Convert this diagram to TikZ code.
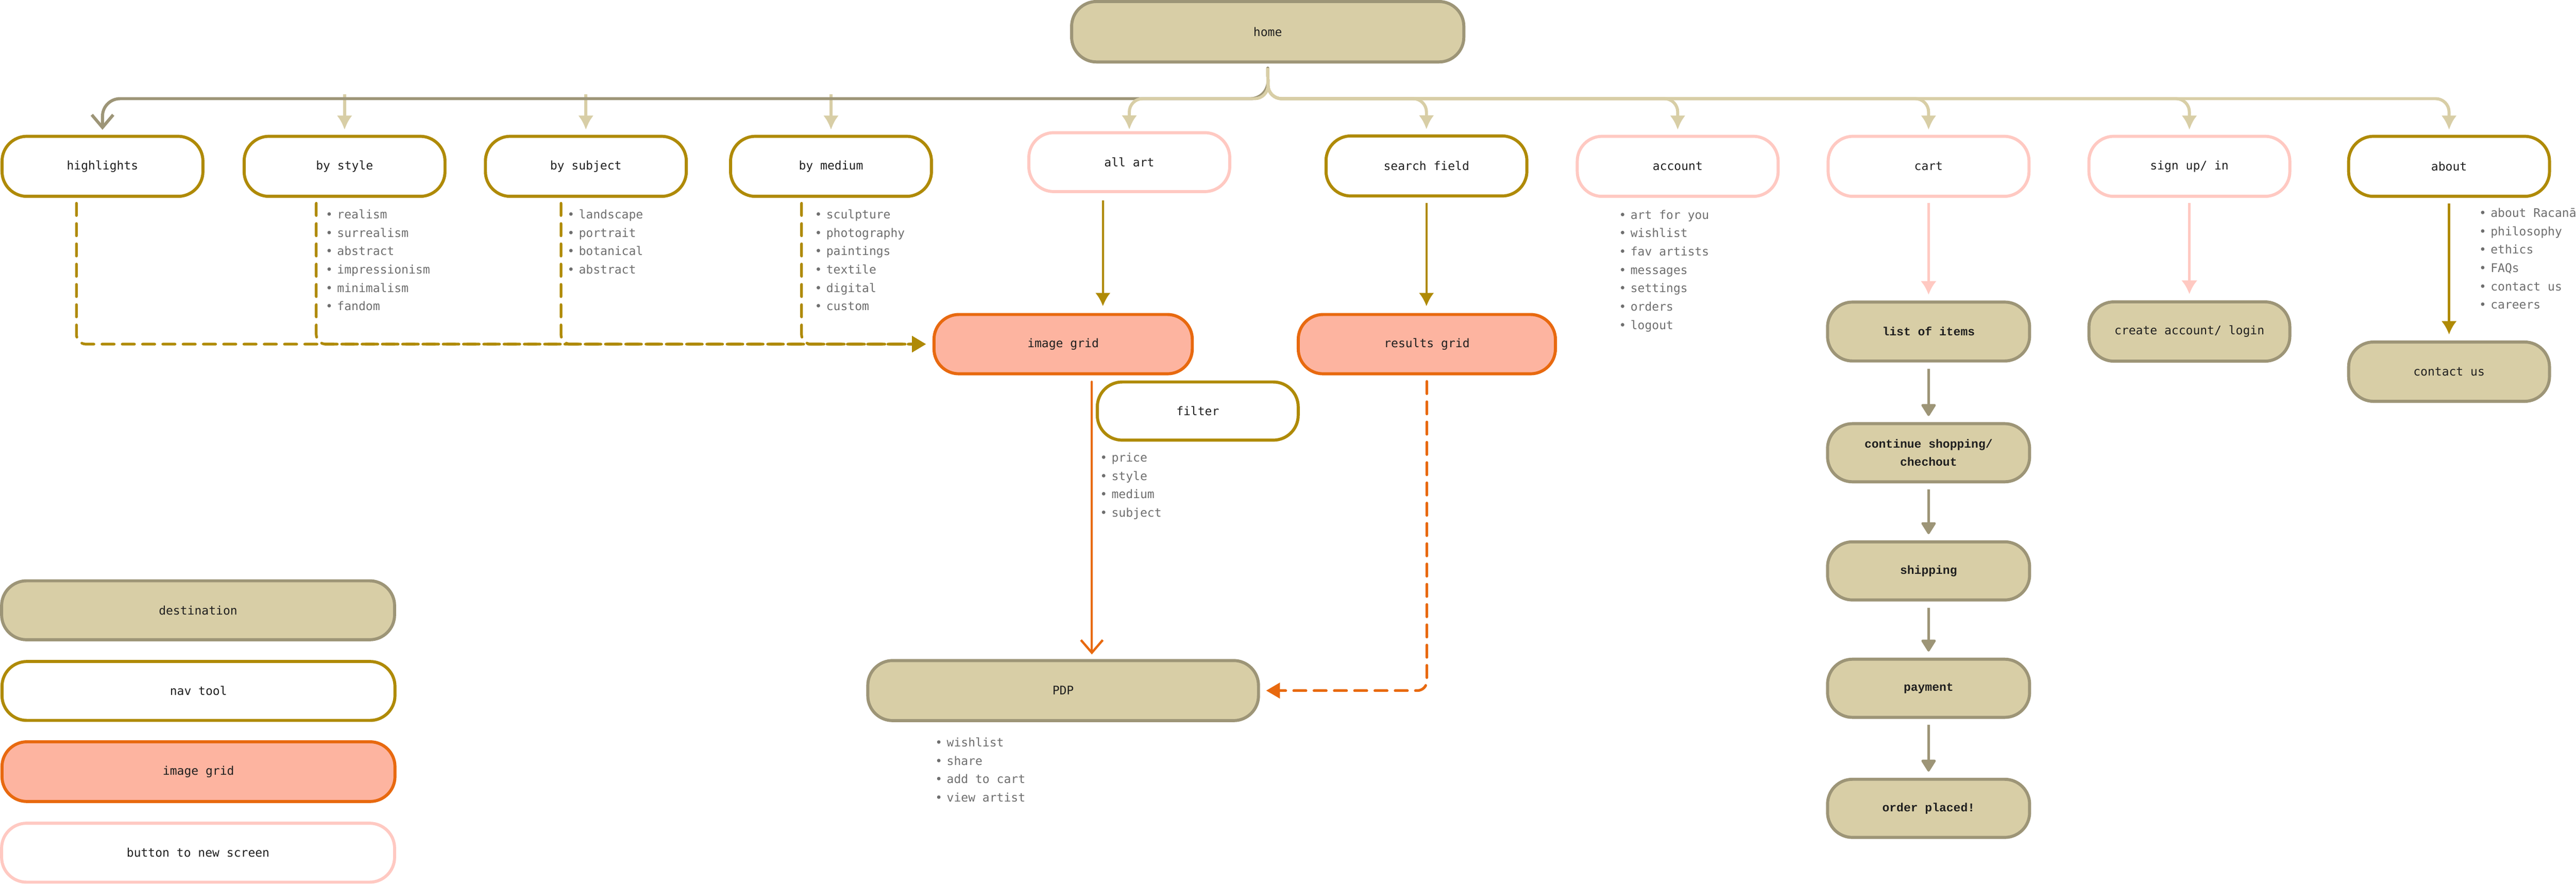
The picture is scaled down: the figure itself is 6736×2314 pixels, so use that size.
\documentclass[tikz,border=0pt]{standalone}
\usepackage{fontspec}
\setmonofont{DejaVu Sans Mono}
\newfontfamily\cartmono{Liberation Mono}
\usetikzlibrary{arrows.meta}
\definecolor{destF}{HTML}{D8CEA6}
\definecolor{destB}{HTML}{9D9577}
\definecolor{navB}{HTML}{AF8A06}
\definecolor{gridF}{HTML}{FDB4A0}
\definecolor{gridB}{HTML}{E8690F}
\definecolor{btnB}{HTML}{FFC9C2}
\definecolor{txt}{HTML}{1F1F1F}
\definecolor{listgrey}{HTML}{6E6E6E}
\newcommand{\lblfont}{\ttfamily\fontsize{8.82pt}{11pt}\selectfont}
\newcommand{\cartfont}{\cartmono\bfseries\fontsize{8.82pt}{13.4pt}\selectfont}
\newcommand{\bul}{\llap{\makebox[0.3cm][l]{•}}}
\begin{document}
\begin{tikzpicture}[x=0.01cm, y=-0.01cm,
  box/.style={rectangle, rounded corners=0.65cm, minimum width=5.25cm, minimum height=1.57cm, inner sep=0pt, line width=0.08cm, font=\lblfont, text=txt, align=center},
  dest/.style={box, draw=destB, fill=destF},
  cartbox/.style={dest, font=\cartfont, minimum width=5.28cm, minimum height=1.52cm},
  nav/.style={box, draw=navB, fill=white},
  grid/.style={box, draw=gridB, fill=gridF},
  btn/.style={box, draw=btnB, fill=white},
  li/.style={anchor=base west, inner sep=0pt, font=\lblfont, text=listgrey},
  lightarr/.style={draw=destF, line width=0.08cm, -{Latex[length=0.37cm,width=0.40cm]}, shorten >=0.13cm},
  darkarr/.style={draw=destB, line width=0.08cm, line cap=round, -{Straight Barb[length=0.33cm,width=0.56cm]}, shorten >=0.13cm},
  golddash/.style={draw=navB, line width=0.07cm, line cap=round, dash pattern=on 0.32cm off 0.21cm, rounded corners=0.25cm, -{Triangle[length=0.36cm,width=0.41cm]}, shorten <=0.14cm, shorten >=0.175cm},
  goldarr/.style={draw=navB, line width=0.06cm, -{Latex[length=0.35cm,width=0.40cm]}},
  orangeline/.style={draw=gridB, line width=0.06cm, line cap=round, -{Straight Barb[length=0.33cm,width=0.57cm]}},
  orangedash/.style={draw=gridB, line width=0.07cm, line cap=round, dash pattern=on 0.32cm off 0.21cm, rounded corners=0.25cm, -{Triangle[length=0.36cm,width=0.40cm]}},
  pinkarr/.style={draw=btnB, line width=0.07cm, -{Latex[length=0.36cm,width=0.42cm]}},
  greyarr/.style={draw=destB, line width=0.06cm, -{Triangle[length=0.34cm,width=0.41cm,round]}, shorten <=0.16cm, shorten >=0.16cm}
]
\fill[white] (0,0) rectangle (6736,2314);
\useasboundingbox (0,0) rectangle (6736,2314);

% ---- nodes ----
\node[dest, minimum width=10.25cm, minimum height=1.58cm] (home) at (3315,83) {home};

\node[nav] (highlights) at (268,435) {highlights};
\node[nav] (bystyle) at (901,435) {by style};
\node[nav] (bysubject) at (1532,435) {by subject};
\node[nav] (bymedium) at (2173,435) {by medium};
\node[btn, minimum height=1.54cm] (allart) at (2953,424) {all art};
\node[nav] (search) at (3730,434) {search field};
\node[btn] (account) at (4387,435) {account};
\node[btn] (cart) at (5043,435) {cart};
\node[btn] (signup) at (5725,435) {sign up/ in};
\node[nav] (about) at (6404,435) {about};

\node[grid, minimum width=6.75cm, minimum height=1.55cm] (imagegrid) at (2780,900) {image grid};
\node[grid, minimum width=6.72cm, minimum height=1.55cm] (results) at (3731,900) {results grid};
\node[nav, minimum height=1.52cm] (filter) at (3132,1075) {filter};
\node[dest, minimum width=10.21cm] (pdp) at (2780,1806) {PDP};

\node[cartbox, minimum height=1.54cm] (items) at (5043,867) {list of items};
\node[cartbox] (continue) at (5043,1184) {continue shopping/\\chechout};
\node[cartbox] (shipping) at (5043,1493) {shipping};
\node[cartbox] (payment) at (5043,1800) {payment};
\node[cartbox] (placed) at (5043,2114) {order placed!};

\node[dest, minimum height=1.55cm] (create) at (5725,867) {create account/ login};
\node[dest, minimum height=1.55cm] (contact) at (6404,972) {contact us};

\node[dest, minimum width=10.27cm, minimum height=1.54cm] (lgdest) at (518,1596) {destination};
\node[nav, minimum width=10.27cm, minimum height=1.54cm] (lgnav) at (519,1807) {nav tool};
\node[grid, minimum width=10.27cm, minimum height=1.56cm] (lggrid) at (519,2018) {image grid};
\node[btn, minimum width=10.27cm, minimum height=1.54cm] (lgbtn) at (518,2230) {button to new screen};

% ---- lists ----
\foreach \t [count=\i from 0] in {realism,surrealism,abstract,impressionism,minimalism,fandom}
  \node[li] (lstyle\i) at (881,{572+48*\i}) {\bul\t};
\foreach \t [count=\i from 0] in {landscape,portrait,botanical,abstract}
  \node[li] (lsubject\i) at (1513,{572+48*\i}) {\bul\t};
\foreach \t [count=\i from 0] in {sculpture,photography,paintings,textile,digital,custom}
  \node[li] (lmedium\i) at (2160,{572+48*\i}) {\bul\t};
\foreach \t [count=\i from 0] in {art for you,wishlist,fav artists,messages,settings,orders,logout}
  \node[li] (laccount\i) at (4263,{573+48*\i}) {\bul\t};
\foreach \t [count=\i from 0] in {about Racanā,philosophy,ethics,FAQs,contact us,careers}
  \node[li] (labout\i) at (6512,{568+48*\i}) {\bul\t};
\foreach \t [count=\i from 0] in {price,style,medium,subject}
  \node[li] (lfilter\i) at (2906,{1208+48*\i}) {\bul\t};
\foreach \t [count=\i from 0] in {wishlist,share,add to cart,view artist}
  \node[li] (lpdp\i) at (2475,{1953+48*\i}) {\bul\t};

% ---- top connectors ----
\coordinate (bus) at (3316,258);
\coordinate (stemtop) at (0,247);
\foreach \n in {bystyle,bysubject,bymedium}
  \draw[lightarr] (\n.north |- stemtop) -- (\n.north);
\draw[darkarr, rounded corners=0.46cm, shorten <=0.12cm] (home.south) -- (bus) -| (highlights.north);
\foreach \n in {search,account,cart,signup,about}
  \draw[lightarr, rounded corners=0.35cm, shorten <=0.12cm] (home.south) -- (bus) -| (\n.north);
\draw[lightarr, rounded corners=0.35cm, shorten <=0.12cm, shorten >=0.04cm] (home.south) -- (bus) -| (allart.north);

% ---- dashed gold to image grid ----
\draw[golddash] ([xshift=-0.68cm]highlights.south) |- (imagegrid.west);
\draw[golddash] ([xshift=-0.74cm]bystyle.south) |- (imagegrid.west);
\draw[golddash] ([xshift=-0.65cm]bysubject.south) |- (imagegrid.west);
\draw[golddash] ([xshift=-0.77cm]bymedium.south) |- (imagegrid.west);

% ---- gold solid ----
\coordinate (a1) at ([xshift=-0.69cm]allart.south);
\draw[goldarr, shorten <=0.19cm, shorten >=0.175cm] (a1) -- (a1 |- imagegrid.north);
\draw[goldarr, shorten <=0.145cm, shorten >=0.175cm] (search.south) -- (search.south |- results.north);
\draw[goldarr, shorten <=0.145cm, shorten >=0.155cm] (about.south) -- (contact.north);

% ---- orange ----
\coordinate (o1) at ([xshift=0.75cm]imagegrid.south);
\draw[orangeline, shorten <=0.17cm, shorten >=0.12cm] (o1) -- (o1 |- pdp.north);
\draw[orangedash, shorten <=0.16cm, shorten >=0.16cm] (results.south) |- (pdp.east);

% ---- pink ----
\draw[pinkarr, shorten <=0.135cm, shorten >=0.15cm] (cart.south) -- (items.north);
\draw[pinkarr, shorten <=0.135cm, shorten >=0.16cm] (signup.south) -- (create.north);

% ---- checkout flow ----
\draw[greyarr] (items.south) -- (continue.north);
\draw[greyarr] (continue.south) -- (shipping.north);
\draw[greyarr] (shipping.south) -- (payment.north);
\draw[greyarr] (payment.south) -- (placed.north);
\end{tikzpicture}
\end{document}
